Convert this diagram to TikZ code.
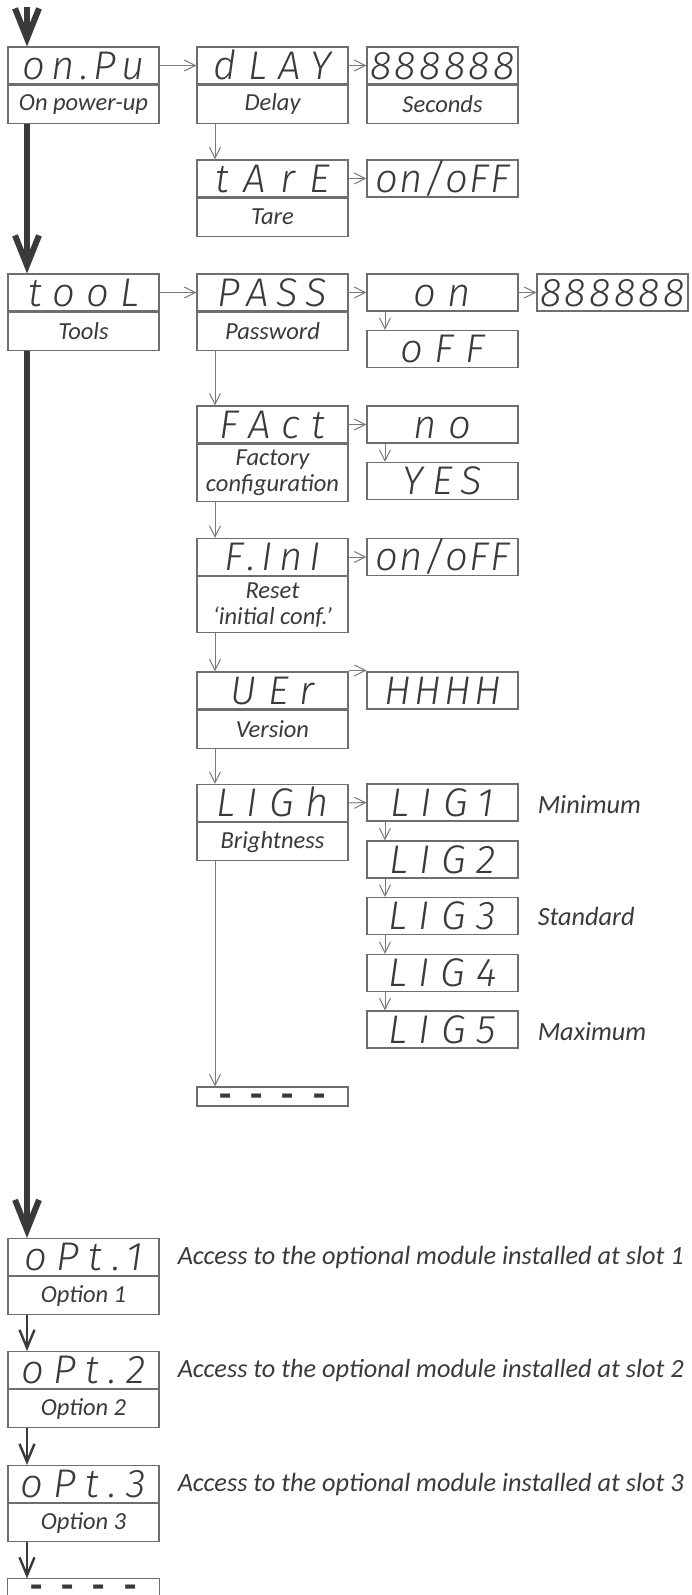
\documentclass[tikz,border=0pt]{standalone}
\usepackage{fontspec}
\setmainfont{Carlito}
\IfFontExistsTF{Fira Sans Light Italic}
	{\newfontfamily\segfont{Fira Sans Light Italic}}
	{\newfontfamily\segfont{DejaVu Sans}[FakeSlant=0.2]}
\usetikzlibrary{arrows.meta}
\definecolor{boxgray}{HTML}{6E6E6E}
\definecolor{linegray}{HTML}{7A7A7A}
\definecolor{inkgray}{HTML}{3A3A3A}

\begin{document}
\begin{tikzpicture}[x=1pt, y=-1pt,
		disp/.style={draw=boxgray, line width=1.1pt, minimum width=151pt, minimum height=37pt, inner sep=0pt, text=inkgray,
			text height=27.6pt, text depth=0pt, font=\segfont\fontsize{40}{40}\selectfont\addfontfeature{LetterSpace=28}},
		tight/.style={font=\segfont\fontsize{40}{40}\selectfont\addfontfeature{LetterSpace=#1}},
		six/.style={disp, tight=8},
		dashbox/.style={draw=boxgray, line width=1.1pt, minimum width=151pt, minimum height=19pt, inner sep=0pt, text=inkgray,
			text height=19pt, text depth=0pt, font=\bfseries\fontsize{40}{40}\selectfont},
		lbl/.style={draw=boxgray, line width=1.1pt, minimum width=151pt, minimum height=38pt, inner sep=0pt, text=inkgray,
			align=center, anchor=north, font=\fontsize{24.5}{26}\selectfont\itshape},
		side/.style={anchor=west, inner sep=0pt, text=inkgray, font=\fontsize{26.3}{28}\selectfont\itshape},
		link/.style={draw=linegray, line width=1pt, -{Straight Barb[length=11pt, width=11pt]}},
		main/.style={draw=inkgray, line width=6pt, -{Straight Barb[length=30pt, width=24pt]}},
		sub/.style={draw=inkgray, line width=2.4pt, -{Straight Barb[length=18pt, width=15pt]}}]
	\useasboundingbox (0,0) rectangle (691,1595);

	\node[disp, tight=14] (onpu) at (83.5,65.5) {on.Pu};
	\node[lbl] (onpu-l) at (onpu.south) {On power-up};
	\node[disp] (dlay) at (272.5,65.5) {dLAY};
	\node[lbl] (dlay-l) at (dlay.south) {Delay};
	\node[six] (secs) at (442.5,65.5) {888888};
	\node[lbl] (secs-l) at (secs.south) {Seconds};
	\node[disp, tight=36] (tare) at (272.5,178.5) {tArE};
	\node[lbl] (tare-l) at (tare.south) {Tare};
	\node[six, tight=4] (onoff1) at (442.5,178.5) {on/oFF};

	\node[disp] (tool) at (83.5,292.5) {tooL};
	\node[lbl] (tool-l) at (tool.south) {Tools};
	\node[disp, tight=20] (pass) at (272.5,292.5) {PASS};
	\node[lbl] (pass-l) at (pass.south) {Password};
	\node[disp] (pon) at (442.5,292.5) {on};
	\node[six] (pin) at (612.5,292.5) {888888};
	\node[disp] (poff) at (442.5,349) {oFF};

	\node[disp] (fact) at (272.5,424.5) {FAct};
	\node[lbl, minimum height=57pt] (fact-l) at (fact.south) {Factory\\configuration};
	\node[disp] (fno) at (442.5,424.5) {no};
	\node[disp, tight=22] (fyes) at (442.5,481) {YES};

	\node[disp, tight=16] (fini) at (272.5,557) {F.InI};
	\node[lbl, minimum height=56pt] (fini-l) at (fini.south) {Reset\\‘initial conf.’};
	\node[six, tight=4] (onoff2) at (442.5,557) {on/oFF};

	\node[disp] (ver) at (272.5,690.5) {UEr};
	\node[lbl] (ver-l) at (ver.south) {Version};
	\node[disp, tight=8] (hhhh) at (442.5,690.5) {HHHH};

	\node[disp] (ligh) at (272.5,803) {LIGh};
	\node[lbl] (ligh-l) at (ligh.south) {Brightness};
	\foreach \i/\y in {1/802.5, 2/859.5, 3/916, 4/973, 5/1029.5}
		\node[disp] (lig\i) at (442.5,\y) {LIG\i};
	\node[side] (mini) at ([xshift=19pt, yshift=-2pt]lig1.east) {Minimum};
	\node[side] (stnd) at ([xshift=19pt]lig3.east) {Standard};
	\node[side] (maxi) at ([xshift=19pt, yshift=-2pt]lig5.east) {Maximum};
	\node[dashbox] (tend) at (272.5,1096.5)
		{\raisebox{-1.5pt}{-\hspace{19pt}-\hspace{19pt}-\hspace{19pt}-}};

	\foreach \i/\y in {1/1257, 2/1370, 3/1484} {
		\node[disp, tight=24] (opt\i) at (83.5,\y) {oPt.\i};
		\node[lbl] (opt\i-l) at (opt\i.south) {Option \i};
		\node[side] (acc\i) at ([xshift=18pt]opt\i.east) {Access to the optional module installed at slot \i};
	}
	\node[dashbox, draw=none, minimum height=14pt, text height=14pt] (oend) at (83.5,1586)
		{\raisebox{-5pt}{-\hspace{19pt}-\hspace{19pt}-\hspace{19pt}-}};
	\draw[boxgray, line width=1.1pt] ([yshift=-3pt]oend.south west) -- (oend.north west) -- (oend.north east) -- ([yshift=-3pt]oend.south east);

	\coordinate (top) at (27,7);
	\coordinate (c2) at (215,0);
	\coordinate (c3) at (385,0);
	\draw[main] (top) -- (top |- onpu.north);
	\draw[main] (top |- onpu-l.south) -- (top |- tool.north);
	\draw[main] (top |- tool-l.south) -- (top |- opt1.north);
	\foreach \a/\b in {opt1/opt2, opt2/opt3}
		\draw[sub] (top |- \a-l.south) -- (top |- \b.north);
	\draw[sub] (top |- opt3-l.south) -- (top |- oend.north);

	\foreach \a/\b in {onpu/dlay, dlay/secs, tare/onoff1, tool/pass, pass/pon, pon/pin, fact/fno, fini/onoff2, ligh/lig1}
		\draw[link] (\a.east) -- (\b.west);
	\draw[link] ([yshift=1pt]ver.north east) -- ([yshift=1pt]hhhh.north west);
	\foreach \a/\b in {dlay/tare, pass/fact, fact/fini, fini/ver, ver/ligh}
		\draw[link] (c2 |- \a-l.south) -- (c2 |- \b.north);
	\draw[link] (c2 |- ligh-l.south) -- (c2 |- tend.north);
	\foreach \a/\b in {pon/poff, fno/fyes, lig1/lig2, lig2/lig3, lig3/lig4, lig4/lig5}
		\draw[link] (c3 |- \a.south) -- (c3 |- \b.north);
\end{tikzpicture}
\end{document}
